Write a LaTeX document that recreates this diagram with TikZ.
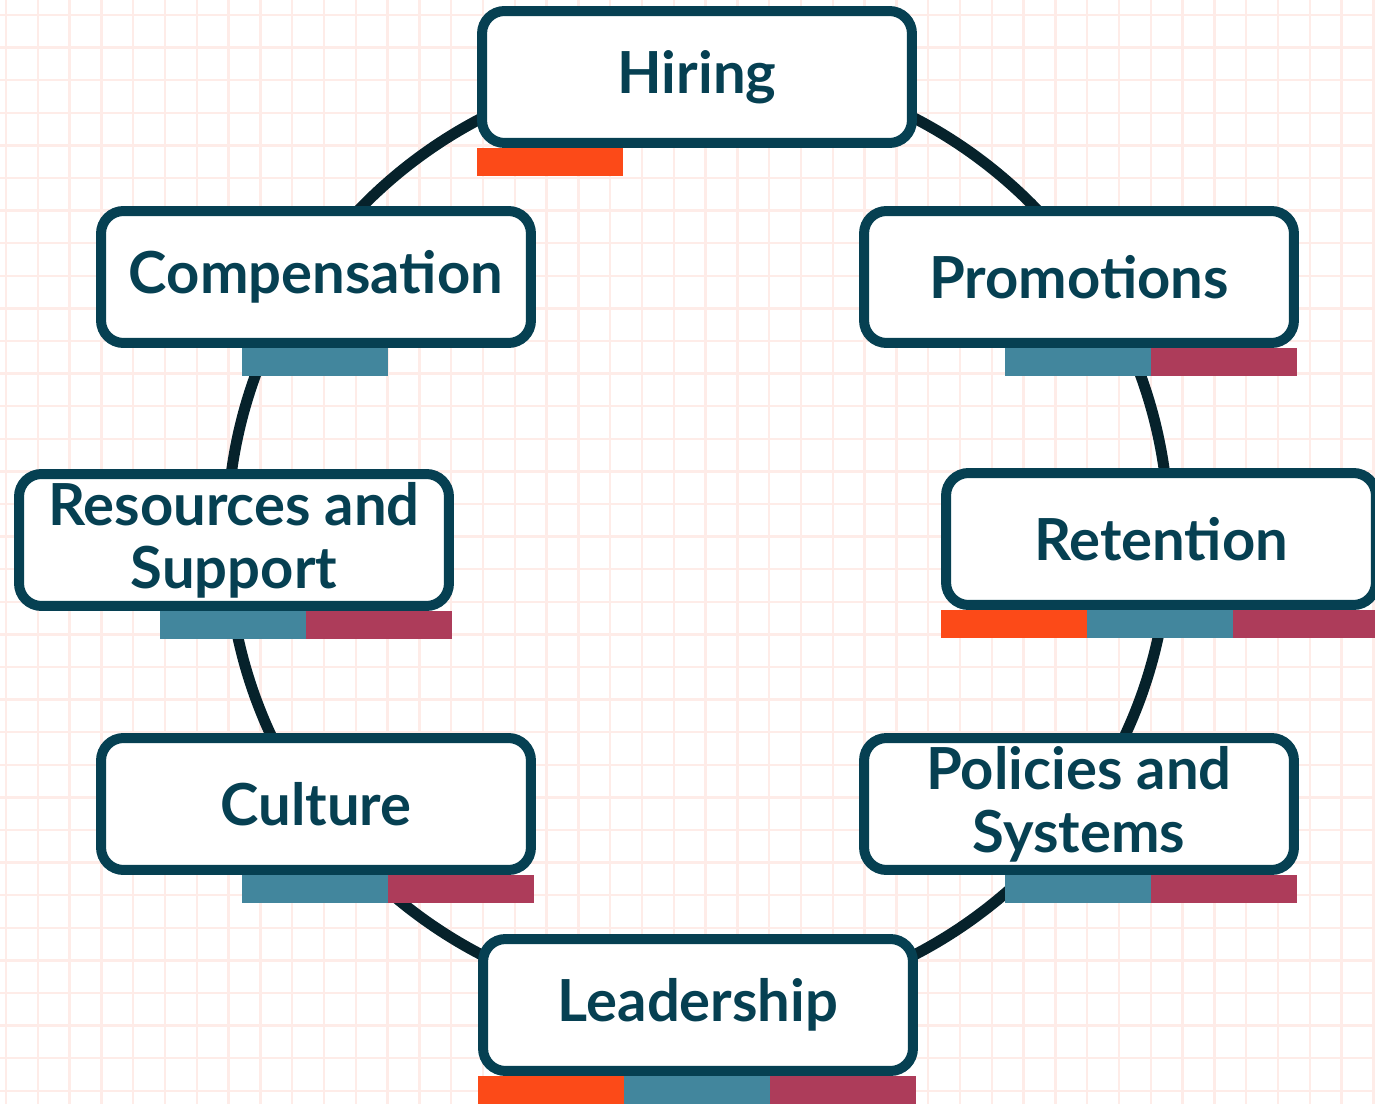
\documentclass[tikz,border=0pt]{standalone}
\usepackage{fontspec}
\setmainfont{Lato}
\usetikzlibrary{positioning}
\definecolor{boxblue}{RGB}{6,64,82}
\definecolor{ringdark}{RGB}{6,34,43}
\definecolor{orangebar}{RGB}{252,74,24}
\definecolor{tealbar}{RGB}{66,134,157}
\definecolor{redbar}{RGB}{173,60,90}
\definecolor{gridpink}{RGB}{254,236,232}

\begin{document}
\begin{tikzpicture}[x=0.02cm,y=-0.02cm,
	gridline/.style={draw=gridpink,line width=0.045cm},
	ring/.style={draw=ringdark,line width=0.22cm},
	topic/.style={draw=boxblue,line width=0.2cm,rounded corners=0.45cm,fill=white,text=boxblue,
		minimum width=8.6cm,minimum height=2.64cm,inner sep=0pt,align=center,
		font=\fontsize{33}{36}\selectfont\bfseries},
	bar/.style={anchor=north west,minimum width=2.92cm,minimum height=0.56cm,inner sep=0pt,outer sep=0pt}]
	\useasboundingbox (0,0) rectangle (1375,1104);
	\clip (0,0) rectangle (1375,1104);
	\foreach \i in {0,...,43}
		\draw[gridline] (6+\i*31.8,0) -- (6+\i*31.8,1104);
	\foreach \j in {0,...,33}
		\draw[gridline] (0,15+\j*32.6) -- (1375,15+\j*32.6);
	\coordinate (center) at (698,536.5);
	\draw[ring] (center) circle [radius=9.42cm];
	\node[topic] (hiring) at (697,77) {Hiring};
	\node[topic] (compensation) at (316,277) {Compensation};
	\node[topic] (promotions) at (1079,277) {Promotions};
	\node[topic] (resources) at (234,540) {Resources and\\Support};
	\node[topic] (retention) at (1161,539) {Retention};
	\node[topic] (culture) at (316,804) {Culture};
	\node[topic] (policies) at (1079,804) {Policies and\\Systems};
	\node[topic] (leadership) at (698,1005) {Leadership};
	\foreach \t/\k/\c in {hiring/0/orangebar,
		compensation/1/tealbar,
		promotions/1/tealbar, promotions/2/redbar,
		resources/1/tealbar, resources/2/redbar,
		retention/0/orangebar, retention/1/tealbar, retention/2/redbar,
		culture/1/tealbar, culture/2/redbar,
		policies/1/tealbar, policies/2/redbar,
		leadership/0/orangebar, leadership/1/tealbar, leadership/2/redbar}
		\node[bar,fill=\c] (\t-bar\k) at ([xshift=\k*2.92cm]\t.south west) {};
\end{tikzpicture}
\end{document}
